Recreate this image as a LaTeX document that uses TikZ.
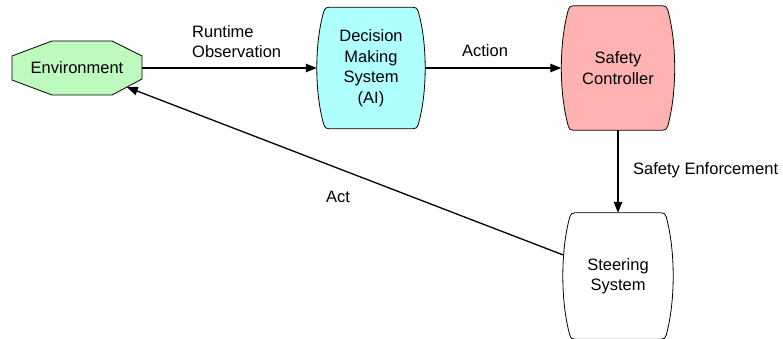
\documentclass[tikz,border=0pt]{standalone}
\usepackage{fontspec}
\setmainfont{Liberation Sans}
\usetikzlibrary{arrows.meta,calc,backgrounds}
\definecolor{envgreen}{RGB}{190,250,190}
\definecolor{dmcyan}{RGB}{175,255,255}
\definecolor{scpink}{RGB}{255,178,178}
\tikzset{
  lbl/.style={font=\fontsize{16.5}{20.5}\selectfont, inner sep=0pt},
  box/.style={rectangle, inner sep=0pt, align=center, font=\fontsize{16.5}{20.5}\selectfont},
  shapeline/.style={draw=black, line width=0.8pt},
  conn/.style={line width=1.3pt, -{Triangle[length=11pt,width=8.5pt]}},
}
\newcommand{\barrelfill}[2]{%
  \path[shapeline, fill=#2] let \p1=(#1.north west), \p2=(#1.south east),
      \p3=($(#1.north west)!0.3!(#1.south west)$), \p4=($(#1.north west)!0.7!(#1.south west)$) in
    (\x1+12pt,\y1) -- (\x2-12pt,\y1)
    .. controls (\x2-9pt,\y1) and (\x2-8pt,\y1-1pt) .. (\x2-7pt,\y1-4pt)
    .. controls (\x2+2.33pt,\y3) and (\x2+2.33pt,\y4) .. (\x2-7pt,\y2+4pt)
    .. controls (\x2-8pt,\y2+1pt) and (\x2-9pt,\y2) .. (\x2-12pt,\y2)
    -- (\x1+12pt,\y2)
    .. controls (\x1+9pt,\y2) and (\x1+8pt,\y2+1pt) .. (\x1+7pt,\y2+4pt)
    .. controls (\x1-2.33pt,\y4) and (\x1-2.33pt,\y3) .. (\x1+7pt,\y1-4pt)
    .. controls (\x1+8pt,\y1-1pt) and (\x1+9pt,\y1) .. cycle;
}
\begin{document}
\begin{tikzpicture}[x=1pt,y=-1pt]
\useasboundingbox (0,0) rectangle (783,339);
\node[box, minimum width=130pt, minimum height=54pt] (env) at (77,68) {Environment};
\node[box, minimum width=108pt, minimum height=121pt] (dm) at (371,68) {Decision\\Making\\System\\(AI)};
\node[box, minimum width=113pt, minimum height=124pt] (sc) at (618,68) {Safety\\Controller};
\node[box, minimum width=110pt, minimum height=126pt] (st) at (618,276) {Steering\\System};
\coordinate (ose1) at (142,79);
\coordinate (ose2) at (112,95);
\coordinate (envhit) at ($(ose1)!0.505!(ose2)$);
\begin{scope}[on background layer]
  \path[shapeline, fill=envgreen] (52,41) -- (112,41) -- (142,56) -- (ose1) -- (ose2) -- (52,95) -- (12,80) -- (12,56) -- cycle;
  \barrelfill{dm}{dmcyan}
  \barrelfill{sc}{scpink}
  \barrelfill{st}{white}
\end{scope}
\draw[conn] (env) -- (dm);
\draw[conn] (dm) -- (sc);
\draw[conn] (sc) -- (st);
\draw[conn] (st.159) -- (envhit);
\node[lbl, anchor=west, align=left] (lro) at (192,41.4) {Runtime\\Observation};
\node[lbl, anchor=base] (lact) at (485,57) {Action};
\node[lbl, anchor=base west] (lse) at (633,174) {Safety Enforcement};
\node[lbl, anchor=base] (lact2) at (338,202) {Act};
\end{tikzpicture}
\end{document}
